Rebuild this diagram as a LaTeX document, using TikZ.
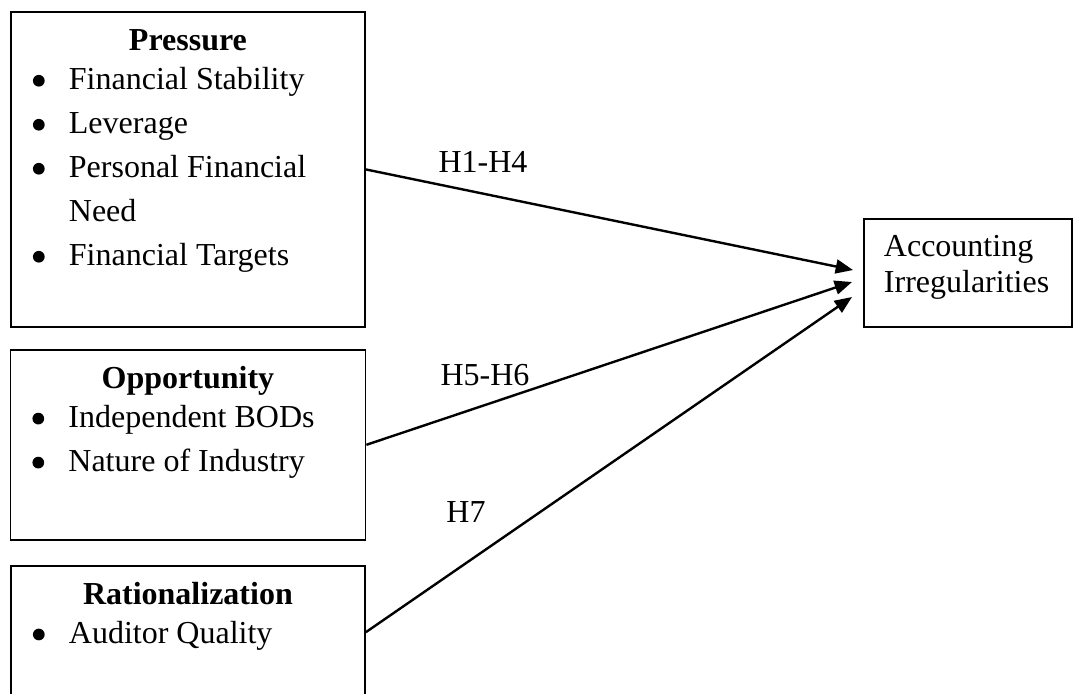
\documentclass[tikz,border=0pt]{standalone}
\usepackage{fontspec}
\setmainfont{Liberation Serif}
\usetikzlibrary{positioning,arrows.meta}
\newdimen\pxu \pxu=0.75pt
\newcommand{\btitle}[1]{\centering\rule{0pt}{39\pxu}\textbf{#1}\par\vspace{-5\pxu}\raggedright}
\newcommand{\bdot}{\tikz[baseline=0pt,x=1pt,y=1pt] \fill[black] (4.4,6.9) circle (4.4);}
\newcommand{\bitem}[1]{\hspace*{22\pxu}\makebox[36\pxu][l]{\bdot}#1\par}
\newcommand{\bmore}[1]{\hspace*{58\pxu}#1\par}
\begin{document}
\begin{tikzpicture}[x=0.75pt,y=-0.75pt]
\tikzstyle{block} = [rectangle, draw=black, line width=1.4pt, inner sep=0pt, font=\fontsize{24}{33}\selectfont]
\tikzstyle{arrow} = [line width=1.8pt, -{Triangle[length=13pt,width=10.5pt]}]
\tikzstyle{hlabel} = [inner sep=0pt, font=\fontsize{24}{33}\selectfont]
\useasboundingbox (0,0) rectangle (1073,693);
\clip (0,0) rectangle (1073,693);
%
\node (1) [block, anchor=north west] at (10,11) {\parbox[c][315\pxu][t]{354\pxu}{\btitle{Pressure}
  \bitem{Financial Stability}
  \bitem{Leverage}
  \bitem{Personal Financial}
  \bmore{Need}
  \bitem{Financial Targets}}};
\node (2) [block, below=15.75pt of 1] {\parbox[c][190\pxu][t]{355\pxu}{\btitle{Opportunity}
  \bitem{Independent BODs}
  \bitem{Nature of Industry}}};
\node (3) [block, below=18pt of 2] {\parbox[c][133\pxu][t]{354\pxu}{\btitle{Rationalization}
  \bitem{Auditor Quality}}};
\node (4) [block, anchor=north west] at (863,218) {\parbox[c][108\pxu][t]{208\pxu}{\raggedright\leftskip=20\pxu
  \rule{0pt}{38\pxu}Accounting\par\vspace{-8\pxu}
  Irregularities}};
%
\coordinate (e1) at (853,270);
\coordinate (e2) at (852,282);
\coordinate (e3) at (852,297);
\draw [arrow] (1.east) -- (e1);
\draw [arrow] (2.east) -- (e2);
\draw [arrow] (3.east) -- (e3);
%
\node (h1) [hlabel] at (483,162) {H1-H4};
\node (h2) [hlabel] at (485,375) {H5-H6};
\node (h3) [hlabel] at (466,512) {H7};
\end{tikzpicture}
\end{document}
